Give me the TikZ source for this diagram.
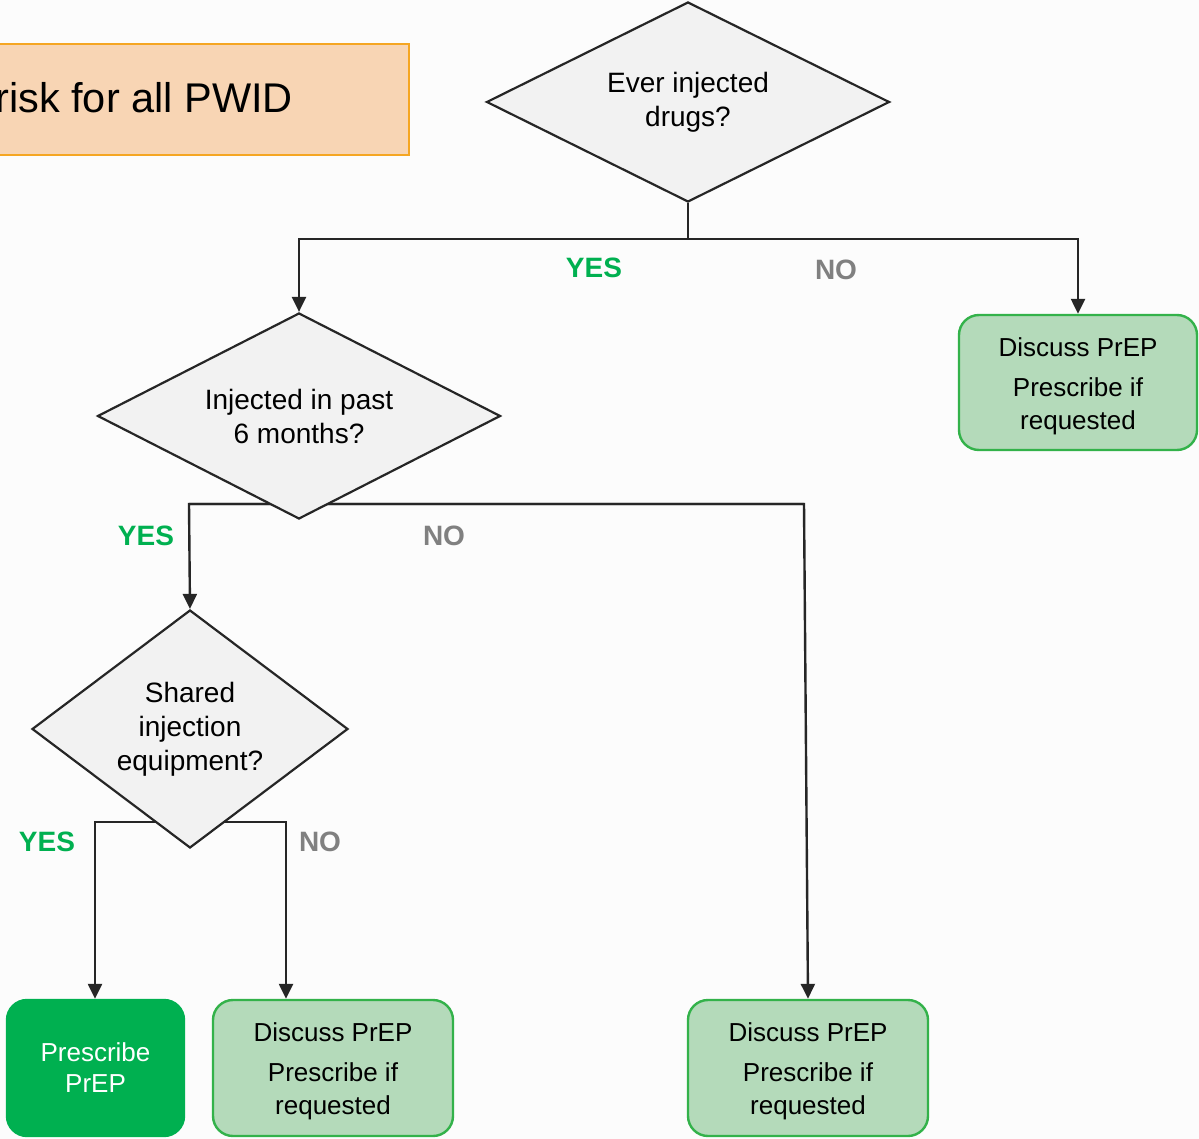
\documentclass[tikz,border=0pt]{standalone}
\usepackage{fontspec}
\setmainfont{Liberation Sans}
\usetikzlibrary{shapes.geometric,arrows.meta}
\pgfdeclarelayer{canvas}
\pgfdeclarelayer{background}
\pgfsetlayers{canvas,background,main}
\definecolor{bg}{RGB}{252,252,252}
\definecolor{dfill}{RGB}{242,242,242}
\definecolor{dline}{RGB}{38,38,38}
\definecolor{lgfill}{RGB}{180,218,186}
\definecolor{gline}{RGB}{51,178,74}
\definecolor{dgreen}{RGB}{0,176,80}
\definecolor{nogray}{RGB}{128,128,128}
\definecolor{ofill}{RGB}{248,213,180}
\definecolor{oline}{RGB}{245,166,35}
\begin{document}
\begin{tikzpicture}[x=1pt,y=-1pt,
  txt/.style={font=\fontsize{26}{33}\selectfont, align=center, text=black},
  dtxt/.style={font=\fontsize{28}{34}\selectfont, align=center, text=black},
  dia/.style={diamond, draw=dline, fill=dfill, line width=2.2pt, inner sep=0pt, dtxt},
  lbox/.style={draw=gline, fill=lgfill, line width=2.4pt, rounded corners=20pt},
  gbox/.style={draw=dgreen, fill=dgreen, line width=2.4pt, rounded corners=20pt},
  conn/.style={draw=dline, line width=2.4pt},
  arr/.style={conn, -{Triangle[length=15pt,width=14pt]}},
  yeslab/.style={font=\bfseries\fontsize{28}{30}\selectfont, text=dgreen},
  nolab/.style={font=\bfseries\fontsize{28}{30}\selectfont, text=nogray}
]
\begin{pgfonlayer}{canvas}
\fill[bg] (0,0) rectangle (1199,1139);
\end{pgfonlayer}
\useasboundingbox (0,0) rectangle (1199,1139);
\clip (0,0) rectangle (1199,1139);

% orange header box (cut at the left edge)
\node (risk) [draw=oline, fill=ofill, line width=2.2pt, minimum width=460pt, minimum height=111pt, inner sep=0pt, anchor=north east] at (410,43) {};
\node (risktext) [font=\fontsize{41.5}{44}\selectfont, anchor=base east, inner sep=0pt] at (293,113) {risk for all PWID};

% decisions
\node (d1) [dia, shape aspect=2, minimum width=403pt, minimum height=200pt] at (688,102) {Ever injected\\drugs?};
\node (d2) [dia, shape aspect=2, minimum width=403pt, minimum height=206pt] at (299,416) {Injected in past\\6 months?};
\node (d3) [dia, shape aspect=1.33, minimum width=316pt, minimum height=238pt] at (190,729) {Shared\\injection\\equipment?};

% outcomes
\node (b1) [lbox, minimum width=238pt, minimum height=135pt,
  label={[txt, yshift=-3.5pt]center:{Discuss PrEP\\[7pt]Prescribe if\\requested}}] at (1078,382.5) {};
\node (b2) [gbox, minimum width=177pt, minimum height=136pt,
  label={[txt, text=white, font=\fontsize{26}{31}\selectfont]center:{Prescribe\\PrEP}}] at (95.5,1068) {};
\node (b3) [lbox, minimum width=240pt, minimum height=136pt,
  label={[txt, yshift=-3.5pt]center:{Discuss PrEP\\[7pt]Prescribe if\\requested}}] at (333,1068) {};
\node (b4) [lbox, minimum width=240pt, minimum height=136pt,
  label={[txt, yshift=-3.5pt]center:{Discuss PrEP\\[7pt]Prescribe if\\requested}}] at (808,1068) {};

% junction points
\coordinate (j1) at (688,239);
\coordinate (l1) at (299,239);
\coordinate (r1) at (1078,239);
\coordinate (l2) at (189,504);
\coordinate (r2) at (804,504);
\coordinate (l3) at (95,822);
\coordinate (r3) at (286,822);

\begin{pgfonlayer}{background}
\draw[conn] (d1.south) -- (j1);
\draw[arr] (j1) -- (l1) -- (d2.north);
\draw[arr] (j1) -- (r1) -- (b1.north);
\draw[arr] (l2) -- (r2) -- (b4.north);
\draw[arr] (r2) -- (l2) -- (d3.north);
\draw[arr] (r3) -- (l3) -- (l3 |- b2.north);
\draw[arr] (l3) -- (r3) -- (r3 |- b3.north);
\end{pgfonlayer}

% branch labels
\node (y1) [yeslab] at (594,268) {YES};
\node (n1) [nolab] at (836,270) {NO};
\node (y2) [yeslab] at (146,536) {YES};
\node (n2) [nolab] at (444,536) {NO};
\node (y3) [yeslab] at (47,842) {YES};
\node (n3) [nolab] at (320,842) {NO};
\end{tikzpicture}
\end{document}
